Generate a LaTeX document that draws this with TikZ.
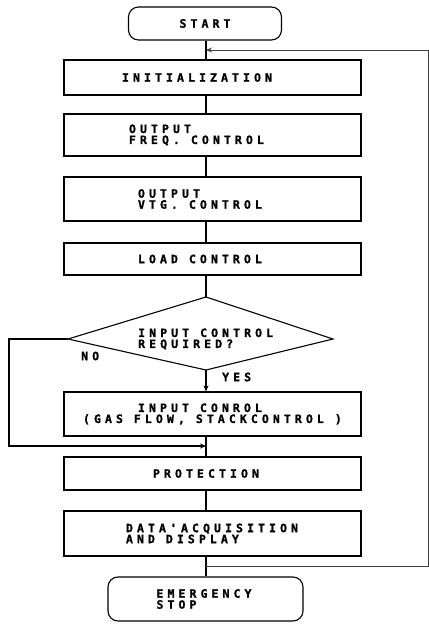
\documentclass[tikz,border=0pt]{standalone}
\usepackage{fontspec}
\usetikzlibrary{arrows.meta,calc}
% wide, heavy monospaced lettering on an 11pt character grid
\newfontfamily\dotfont{DejaVu Sans Mono Bold}[LetterSpace=35.5,FakeBold=1.2]
% one empty character cell
\newcommand\gap{\hspace{11pt}}
\begin{document}
\begin{tikzpicture}[x=1pt,y=-1pt,
  every node/.style={font=\dotfont\fontsize{11.5pt}{11pt}\selectfont, inner sep=0pt},
  proc/.style={draw, line width=1.1pt, text width=297pt, minimum height=#1, align=left},
  term/.style={draw, line width=1.1pt, rounded corners=10pt, minimum width=#1, align=left},
  flow/.style={line width=1.3pt},
  fback/.style={line width=0.8pt, black!75},
  arr/.style={-{Stealth[length=6pt,width=5pt]}}]
\useasboundingbox (0,0) rectangle (429,625);

% main flow axis and junction points
\coordinate (ax) at (206,0);
\coordinate (ji) at (206,50);
\coordinate (jn) at (206,446);
\coordinate (jd) at (206,566);

% terminators
\node[term=153pt, minimum height=33pt] (start) at (205,23.5) {START};
\node[term=195pt, minimum height=44pt] (stop) at (205.5,599) {\hspace*{-3pt}EMERGENCY\\\hspace*{-3pt}STOP};

% process boxes
\node[proc=35pt] (init) at (212.5,77.5) {\hspace*{58pt}INITIALIZATION};
\node[proc=42pt] (freq) at (212.5,135) {\hspace*{65pt}OUTPUT\\\hspace*{65pt}FREQ.\gap CONTROL};
\node[proc=44pt] (vtg) at (212.5,199) {\hspace*{74pt}OUTPUT\\\hspace*{74pt}VTG.\gap CONTROL};
\node[proc=32pt] (load) at (212.5,259) {\hspace*{74pt}LOAD\gap CONTROL};
\node[proc=44pt] (inp) at (212.5,414) {\hspace*{74pt}INPUT\gap CONROL\\\hspace*{19pt}(GAS\gap FLOW,\gap STACKCONTROL\gap )};
\node[proc=33pt] (prot) at (212.5,473.5) {\hspace*{89pt}PROTECTION};
\node[proc=45pt] (data) at (212.5,533.5) {\hspace*{62pt}DATA'ACQUISITION\\\hspace*{62pt}AND\gap DISPLAY};

% decision
\coordinate (dt) at (206,297);
\coordinate (dr) at (333,339);
\coordinate (db) at (206,370);
\coordinate (dl) at (68,339);
\draw[line width=1.1pt] (dt) -- (dr) -- (db) -- (dl) -- cycle;
\node[anchor=west, align=left] (dq) at (138,339) {INPUT\gap CONTROL\\REQUIRED?};
\node[anchor=west] (no) at (81,356) {NO};
\node[anchor=west] (yes) at (222,377) {YES};

% connectors
\draw[flow] (start.south -| ax) -- (init.north -| ax);
\draw[flow] (init.south -| ax) -- (freq.north -| ax);
\draw[flow] (freq.south -| ax) -- (vtg.north -| ax);
\draw[flow] (vtg.south -| ax) -- (load.north -| ax);
\draw[flow] (load.south -| ax) -- (dt);
\draw[flow,arr] (db) -- (inp.north -| ax);
\draw[flow] (inp.south -| ax) -- (prot.north -| ax);
\draw[flow] (prot.south -| ax) -- (data.north -| ax);
\draw[flow] (data.south -| ax) -- (stop.north -| ax);

% NO branch bypassing the input control
\draw[flow,arr] (dl) -- ++(-59,0) |- (jn);

% loop back to the start of the cycle
\draw[fback,arr] (jd) -- ++(222,0) |- (ji);
\end{tikzpicture}
\end{document}
